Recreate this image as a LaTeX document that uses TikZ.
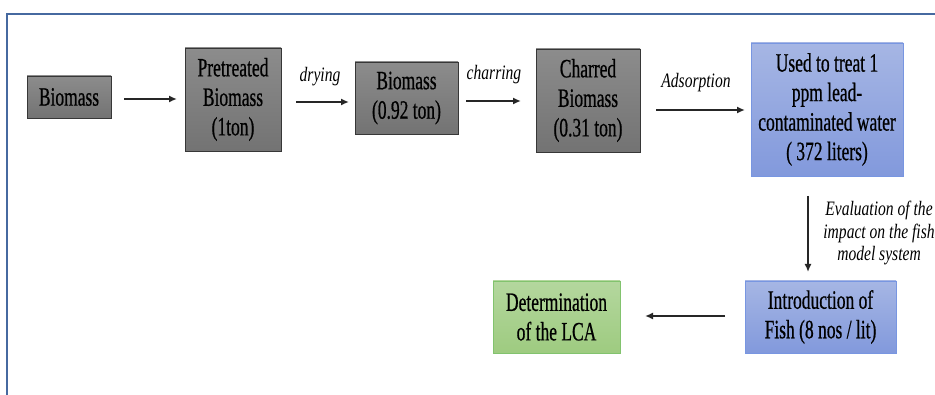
\documentclass[tikz,border=0pt]{standalone}
\usepackage{fontspec}
\setmainfont{Liberation Serif}
\newfontfamily\boxfont[FakeStretch=0.66,FakeBold=0.6]{Liberation Serif}
\newfontfamily\lblfont[FakeStretch=0.76]{Liberation Serif Italic}
\usetikzlibrary{arrows.meta}
\definecolor{framec}{RGB}{70,105,160}
\definecolor{graytop}{RGB}{140,140,140}
\definecolor{graybot}{RGB}{115,115,115}
\definecolor{grayedge}{RGB}{55,55,55}
\definecolor{bluetop}{RGB}{166,182,228}
\definecolor{bluebot}{RGB}{130,153,220}
\definecolor{blueedge}{RGB}{120,150,225}
\definecolor{greentop}{RGB}{180,215,158}
\definecolor{greenbot}{RGB}{158,203,128}
\definecolor{greenedge}{RGB}{130,195,110}
\tikzset{
  x=1pt, y=-1pt,
  boxtext/.style={font={\boxfont\fontsize{26.5}{29.5}\selectfont}, align=center, inner sep=0pt, text=black},
  graybox/.style={boxtext, draw=grayedge, line width=0.9pt, top color=graytop, bottom color=graybot},
  bluebox/.style={boxtext, draw=blueedge, line width=0.9pt, top color=bluetop, bottom color=bluebot},
  greenbox/.style={boxtext, draw=greenedge, line width=0.9pt, top color=greentop, bottom color=greenbot},
  lbl/.style={font={\lblfont\fontsize{20.5}{22.5}\selectfont}, align=center, inner sep=0pt},
  arr/.style={-{Latex[length=8pt,width=7pt]}, line width=1.8pt, black!85}
}
\begin{document}
\begin{tikzpicture}
\useasboundingbox (0,0) rectangle (935,395);
\fill[white] (0,0) rectangle (935,395);
% frame
\draw[framec, line width=2.2pt] (7,395) -- (7,14) -- (935,14);
% boxes
\node[graybox, minimum width=84, minimum height=42] (b1) at (69,97) {Biomass};
\node[graybox, minimum width=96, minimum height=103] (pt) at (233,99.5) {Pretreated\\Biomass\\(1ton)};
\node[graybox, minimum width=103, minimum height=72] (b2) at (406.5,98) {Biomass\\(0.92 ton)};
\node[graybox, minimum width=104, minimum height=103] (ch) at (588,100.5) {Charred\\Biomass\\(0.31 ton)};
\node[bluebox, minimum width=152, minimum height=133] (ut) at (827,109.5) {Used to treat 1\\ppm lead-\\contaminated water\\( 372 liters)};
\node[bluebox, minimum width=151, minimum height=72] (fi) at (820.5,317) {Introduction of\\Fish (8 nos / lit)};
\node[greenbox, minimum width=127, minimum height=72] (lca) at (556.5,317) {Determination\\of the LCA};
% connector endpoints
\coordinate (a1s) at (124,99);
\coordinate (a1e) at (177,99);
\coordinate (a2s) at (296,102);
\coordinate (a2e) at (349,102);
\coordinate (a3s) at (466,101);
\coordinate (a3e) at (521,101);
\coordinate (a4s) at (656,110);
\coordinate (a4e) at (745,110);
\coordinate (a5s) at (808,196);
\coordinate (a5e) at (808,272);
\coordinate (a6s) at (725,316);
\coordinate (a6e) at (645,316);
\draw[arr] (a1s) -- (a1e);
\draw[arr] (a2s) -- (a2e);
\draw[arr] (a3s) -- (a3e);
\draw[arr] (a4s) -- (a4e);
\draw[arr] (a5s) -- (a5e);
\draw[arr] (a6s) -- (a6e);
% labels
\node[lbl] (ldry) at (320,77) {drying};
\node[lbl] (lchar) at (494,75) {charring};
\node[lbl] (lads) at (696,83) {Adsorption};
\node[lbl] (leval) at (879,233) {Evaluation of the\\impact on the fish\\model system};
\end{tikzpicture}
\end{document}
